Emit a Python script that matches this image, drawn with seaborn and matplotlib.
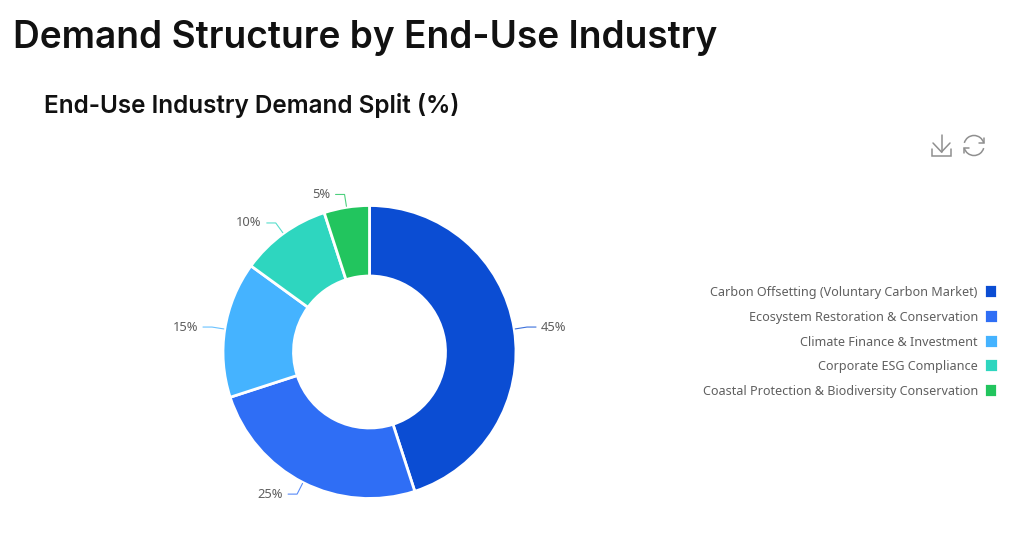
import numpy as np
import matplotlib
matplotlib.use("Agg")
import matplotlib.pyplot as plt
from matplotlib.patches import Patch, Arc
import seaborn as sns

categories = [
    "Carbon Offsetting (Voluntary Carbon Market)",
    "Ecosystem Restoration & Conservation",
    "Climate Finance & Investment",
    "Corporate ESG Compliance",
    "Coastal Protection & Biodiversity Conservation",
]
shares = [45, 25, 15, 10, 5]
colors = ["#0B4DD3", "#2F6EF5", "#45B3FF", "#2ED6BF", "#22C55E"]
page_title = "Demand Structure by End-Use Industry"
chart_title = "End-Use Industry Demand Split (%)"

W, H = 1024, 554
sns.set_theme(style="white")
plt.rcParams["font.family"] = ["Inter", "DejaVu Sans"]
LABEL_FONT = ["Noto Sans", "DejaVu Sans"]

fig = plt.figure(figsize=(W / 100, H / 100), dpi=100, facecolor="white")
ax = fig.add_axes([0, 0, 1, 1])


def py(y):
    """Convert a top-down pixel row to axis height."""
    return H - y


cx, cy, r_out, r_in = 369.5, 352, 146.5, 76
wedges, _ = ax.pie(
    shares, colors=colors, startangle=90, counterclock=False,
    center=(cx, py(cy)), radius=r_out, frame=True,
    wedgeprops=dict(width=r_out - r_in, edgecolor="white", linewidth=2),
)
ax.set_xlim(0, W)
ax.set_ylim(0, H)
ax.set_aspect("equal")
ax.axis("off")

# Percentage labels with elbowed leader lines
for wedge, share, color in zip(wedges, shares, colors):
    a = np.deg2rad((wedge.theta1 + wedge.theta2) / 2)
    ux, uy = np.cos(a), np.sin(a)
    x0, y0 = cx + (r_out + 1) * ux, py(cy) + (r_out + 1) * uy
    x1, y1 = cx + (r_out + 13) * ux, py(cy) + (r_out + 13) * uy
    side = 1 if ux >= 0 else -1
    x2 = x1 + side * 9
    ax.plot([x0, x1, x2], [y0, y1, y1], color=color, lw=0.8, alpha=0.8,
            solid_joinstyle="round")
    ax.text(x2 + side * 5, y1, f"{share}%", ha="left" if side > 0 else "right",
            va="center", fontsize=9.3, color="#5f5f5f", family=LABEL_FONT)

ax.text(13, py(38), page_title, fontsize=26.7, fontweight="semibold",
        color="#111111", va="center", ha="left")
ax.text(44, py(105.5), chart_title, fontsize=17.5, fontweight="semibold",
        color="#111111", va="center", ha="left")

# Legend on the right, swatches after the labels
handles = [Patch(facecolor=c, edgecolor=c, linewidth=1.6, joinstyle="round") for c in colors]
ax.legend(
    handles, categories, loc="center right", bbox_to_anchor=(995.5 / W, 1 - 342 / H),
    bbox_transform=fig.transFigure, frameon=False, markerfirst=False, alignment="right",
    prop=dict(family=LABEL_FONT, size=9.07), labelcolor="#5f5f5f",
    handlelength=0.7, handleheight=0.7,
    handletextpad=0.7, labelspacing=0.93, borderpad=0, borderaxespad=0,
)

# Toolbar icons: download and refresh
icon = dict(color="#8f8f8f", lw=1.1, solid_capstyle="round", solid_joinstyle="miter")
ax.plot([941.5, 941.5], [py(135), py(152)], **icon)
ax.plot([933, 941.5, 950], [py(143), py(152), py(143)], **icon)
ax.plot([932, 932, 951, 951], [py(149), py(155.5), py(155.5), py(149)], **icon)
ix, iy = 974, py(145.5)
ax.add_patch(Arc((ix, iy), 20, 20, theta1=15, theta2=165, color="#8f8f8f", lw=1.1))
ax.add_patch(Arc((ix, iy), 20, 20, theta1=195, theta2=345, color="#8f8f8f", lw=1.1))
ax.plot([979, 984, 984], [py(143), py(143), py(138)], **icon)
ax.plot([964, 964, 969], [py(153), py(148), py(148)], **icon)

fig.savefig("out.png", dpi=100, facecolor="white")
